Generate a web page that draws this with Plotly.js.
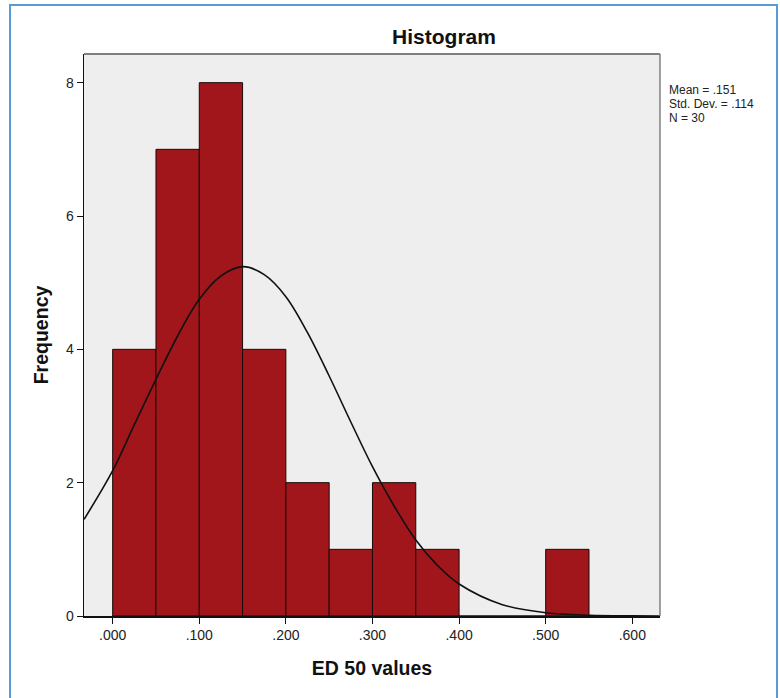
<!DOCTYPE html>
<html>
<head>
<meta charset="utf-8">
<script src="https://cdn.plot.ly/plotly-3.0.1.min.js"></script>
<style>
  html, body { margin: 0; padding: 0; background: #ffffff; overflow: hidden; }
  #frame { position: absolute; left: 9px; top: 4px; width: 765px; height: 720px; border: 2px solid #5b9bd5; box-sizing: content-box; pointer-events: none; z-index: 10; }
  #chart { position: absolute; left: 0; top: 0; width: 780px; height: 698px; }
</style>
</head>
<body>
<div id="chart"></div>
<div id="frame"></div>
<script>
// Histogram bins (ED 50 values), width 0.05
const binStarts = [0.00, 0.05, 0.10, 0.15, 0.20, 0.25, 0.30, 0.35, 0.40, 0.45, 0.50];
const binCounts = [4, 7, 8, 4, 2, 1, 2, 1, 0, 0, 1];
const binWidth = 0.05;

// Normal curve, points
const curveX = [-0.033, 0.000, 0.025, 0.050, 0.075, 0.100, 0.125, 0.150, 0.175, 0.200, 0.225, 0.250, 0.275, 0.300, 0.325, 0.350, 0.375, 0.400, 0.450, 0.500, 0.550, 0.600, 0.632];
const curveY = [1.45, 2.18, 2.87, 3.55, 4.20, 4.75, 5.10, 5.24, 5.12, 4.79, 4.25, 3.60, 2.91, 2.24, 1.65, 1.14, 0.76, 0.48, 0.17, 0.05, 0.012, 0.002, 0.0005];

const xTickVals = [0, 0.1, 0.2, 0.3, 0.4, 0.5, 0.6];
const xTickText = [".000", ".100", ".200", ".300", ".400", ".500", ".600"];
const yTickVals = [0, 2, 4, 6, 8];
const yTickText = ["0", "2", "4", "6", "8"];

const statsLines = ["Mean = .151", "Std. Dev. = .114", "N = 30"];

const barCenters = binStarts.map(s => s + binWidth / 2);

const plotTop = 54, plotBottom = 616;
const plotH = plotBottom - plotTop;
const statsY = [90, 104, 118];

const traces = [
  {
    type: 'bar',
    x: barCenters,
    y: binCounts,
    width: binCounts.map(() => binWidth),
    marker: { color: '#a0161b', line: { color: '#1a0a0a', width: 1 } },
    hoverinfo: 'skip',
    showlegend: false
  },
  {
    type: 'scatter',
    mode: 'lines',
    x: curveX,
    y: curveY,
    line: { color: '#111111', width: 1.6, shape: 'spline', smoothing: 1 },
    hoverinfo: 'skip',
    showlegend: false
  }
];

const layout = {
  width: 780,
  height: 698,
  margin: { l: 84, r: 120, t: plotTop, b: 698 - plotBottom, pad: 0 },
  paper_bgcolor: '#ffffff',
  plot_bgcolor: '#eeeeee',
  bargap: 0,
  font: { family: 'Arial, "Liberation Sans", sans-serif', color: '#222222', size: 12 },
  title: {
    text: 'Histogram',
    font: { size: 21, color: '#111111', family: 'Arial, "Liberation Sans", sans-serif', weight: 'bold' },
    x: 444 / 780, xref: 'container', xanchor: 'center',
    y: 1 - 37 / 698, yref: 'container', yanchor: 'middle'
  },
  xaxis: {
    range: [-0.0331, 0.632],
    tickvals: xTickVals,
    ticktext: xTickText,
    ticks: 'outside',
    ticklen: 6,
    tickwidth: 1,
    tickcolor: '#111111',
    showgrid: false,
    zeroline: false,
    showline: true,
    linecolor: '#111111',
    linewidth: 1.5,
    tickfont: { size: 14, color: '#222222' },
    title: { text: 'ED 50 values', font: { size: 19.5, color: '#111111', weight: 'bold' }, standoff: 19 },
    fixedrange: true
  },
  yaxis: {
    range: [0, 8.43],
    tickvals: yTickVals,
    ticktext: yTickText,
    ticks: 'outside',
    ticklen: 6,
    tickwidth: 1,
    tickcolor: '#111111',
    showgrid: false,
    zeroline: false,
    showline: true,
    linecolor: '#111111',
    linewidth: 1.5,
    tickfont: { size: 14, color: '#222222' },
    title: { text: 'Frequency', font: { size: 19.5, color: '#111111', weight: 'bold' }, standoff: 12 },
    fixedrange: true
  },
  shapes: [
    { type: 'line', xref: 'paper', yref: 'paper', x0: 0, x1: 1, y0: 1, y1: 1, line: { color: '#808080', width: 2 } },
    { type: 'line', xref: 'paper', yref: 'paper', x0: 1, x1: 1, y0: 0, y1: 1, line: { color: '#808080', width: 1.5 } }
  ],
  annotations: statsLines.map((t, i) => ({
    xref: 'paper', yref: 'paper',
    x: (668 - 84) / (780 - 84 - 120), y: (plotBottom - statsY[i]) / plotH,
    xanchor: 'left', yanchor: 'middle', align: 'left',
    text: t,
    showarrow: false,
    borderpad: 0,
    font: { size: 12, color: '#222222' }
  }))
};

Plotly.newPlot('chart', traces, layout, { displayModeBar: false, staticPlot: true });
</script>
</body>
</html>
